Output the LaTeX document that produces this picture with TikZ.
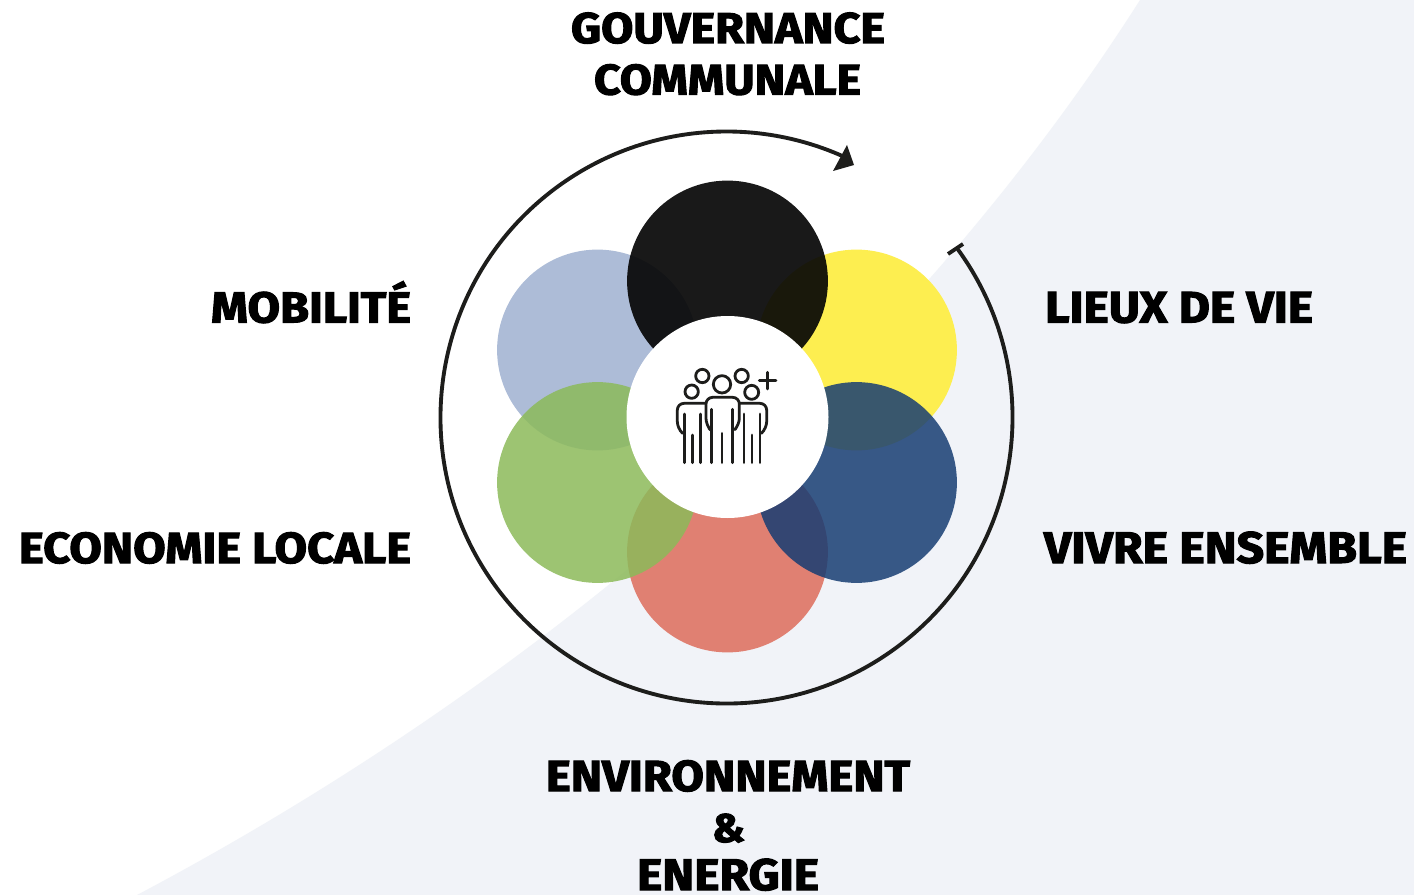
\documentclass[tikz,border=0pt]{standalone}
\usepackage{graphicx}
\usepackage{fontspec}
\newfontfamily\labfont{Fira Sans}[UprightFont=* Bold,FakeBold=2.4]
\definecolor{bgtint}{HTML}{F1F3F8}
\definecolor{ringink}{HTML}{1D1D1B}
\definecolor{cperi}{HTML}{ADBCD7}
\definecolor{cyel}{HTML}{FDEE50}
\definecolor{cblk}{HTML}{060606}
\definecolor{cred}{HTML}{E08072}
\definecolor{cblu}{HTML}{173D73}
\definecolor{cgrn}{HTML}{8CBA5A}
\tikzset{
  petal/.style={circle,inner sep=0pt,minimum size=150.6pt},
  hub/.style={circle,inner sep=0pt,minimum size=151.5pt,fill=white},
  ringline/.style={draw=ringink,line width=2.9pt},
  iconline/.style={draw=ringink,line width=2.1pt,line cap=round,line join=round},
  lab/.style={inner sep=0pt,anchor=base,text=black}
}
\newcommand{\lab}[5]{\pgfmathsetmacro{\labw}{(#3-#2)*0.75}\pgfmathsetmacro{\labx}{(#3+#2)/2}%
  \node[lab] (#1) at (\labx,#4) {\scalebox{1}[0.92]{\resizebox{\labw pt}{!}{\labfont #5}}};}
\begin{document}
\begin{tikzpicture}[x=0.75pt,y=-0.75pt]
\useasboundingbox (0,0) rectangle (1414,895);
\clip (0,0) rectangle (1414,895);
\fill[white] (0,0) rectangle (1414,895);
\fill[bgtint] (137,895) .. controls (590,655) and (930,330) .. (1140,0) -- (1414,0) -- (1414,895) -- cycle;
% petals
\node[petal,fill=cperi] (pperi) at (597.5,350) {};
\node[petal,fill=cyel] (pyel) at (856.5,350) {};
\node[petal,fill=cblk,fill opacity=.92] (pblk) at (727.5,281) {};
\node[petal,fill=cred] (pred) at (727.5,552) {};
\node[petal,fill=cblu,fill opacity=.85] (pblu) at (856.5,482.5) {};
\node[petal,fill=cgrn,fill opacity=.85] (pgrn) at (597.5,482.5) {};
\node[hub] (hub) at (727.5,417) {};
% ring
\coordinate (ringstart) at ({726.5+286*cos(36)},{417.5-286*sin(36)});
\draw[ringline] (ringstart) arc[start angle=-36,end angle=295,radius=286];
\coordinate (ta) at (948,254);
\coordinate (tb) at (963,244);
\draw[ringline] (ta) -- (tb);
\coordinate (aa) at (847,145);
\coordinate (ab) at (854,165);
\coordinate (ac) at (833,171);
\fill[ringink] (aa) -- (ab) -- (ac) -- cycle;
% icon
\begin{scope}[shift={(640,340)},x=0.25pt,y=-0.25pt]
\draw[iconline] (155,155) circle[radius=20];
\draw[iconline] (187,108) circle[radius=20];
\draw[iconline] (246,133) circle[radius=26];
\draw[iconline] (305,108) circle[radius=20];
\draw[iconline] (335,157) circle[radius=21];
\draw[iconline] (358,122) -- (408,122) (383,97) -- (383,147);
\draw[iconline,rounded corners=5pt] (207,265) -- (198,255) -- (198,172) -- (298,172) -- (298,255) -- (288,265);
\draw[iconline,rounded corners=5pt] (195,190) -- (112,190) -- (112,265) -- (128,280);
\draw[iconline,rounded corners=5pt] (300,190) -- (380,190) -- (380,265) -- (364,280);
\draw[iconline] (215,208) -- (215,368) (278,208) -- (278,368) (246,280) -- (246,368);
\draw[iconline] (133,222) -- (133,368) (182,222) -- (182,368) (157,285) -- (157,368);
\draw[iconline] (312,222) -- (312,368) (360,222) -- (360,368) (336,285) -- (336,368);
\end{scope}
% labels
\lab{lgouv}{571}{885}{43}{GOUVERNANCE}
\lab{lcomm}{594}{861}{94.5}{COMMUNALE}
\lab{lmob}{211}{411}{322.5}{MOBILITÉ}
\lab{llieux}{1045}{1313}{322.5}{LIEUX DE VIE}
\lab{leco}{19}{411}{563}{ECONOMIE LOCALE}
\lab{lviv}{1044}{1407}{563}{VIVRE ENSEMBLE}
\lab{lenv}{546}{910}{791}{ENVIRONNEMENT}
\lab{lamp}{712}{745}{842}{\&}
\lab{lene}{637}{819}{890}{ENERGIE}
\end{tikzpicture}
\end{document}
